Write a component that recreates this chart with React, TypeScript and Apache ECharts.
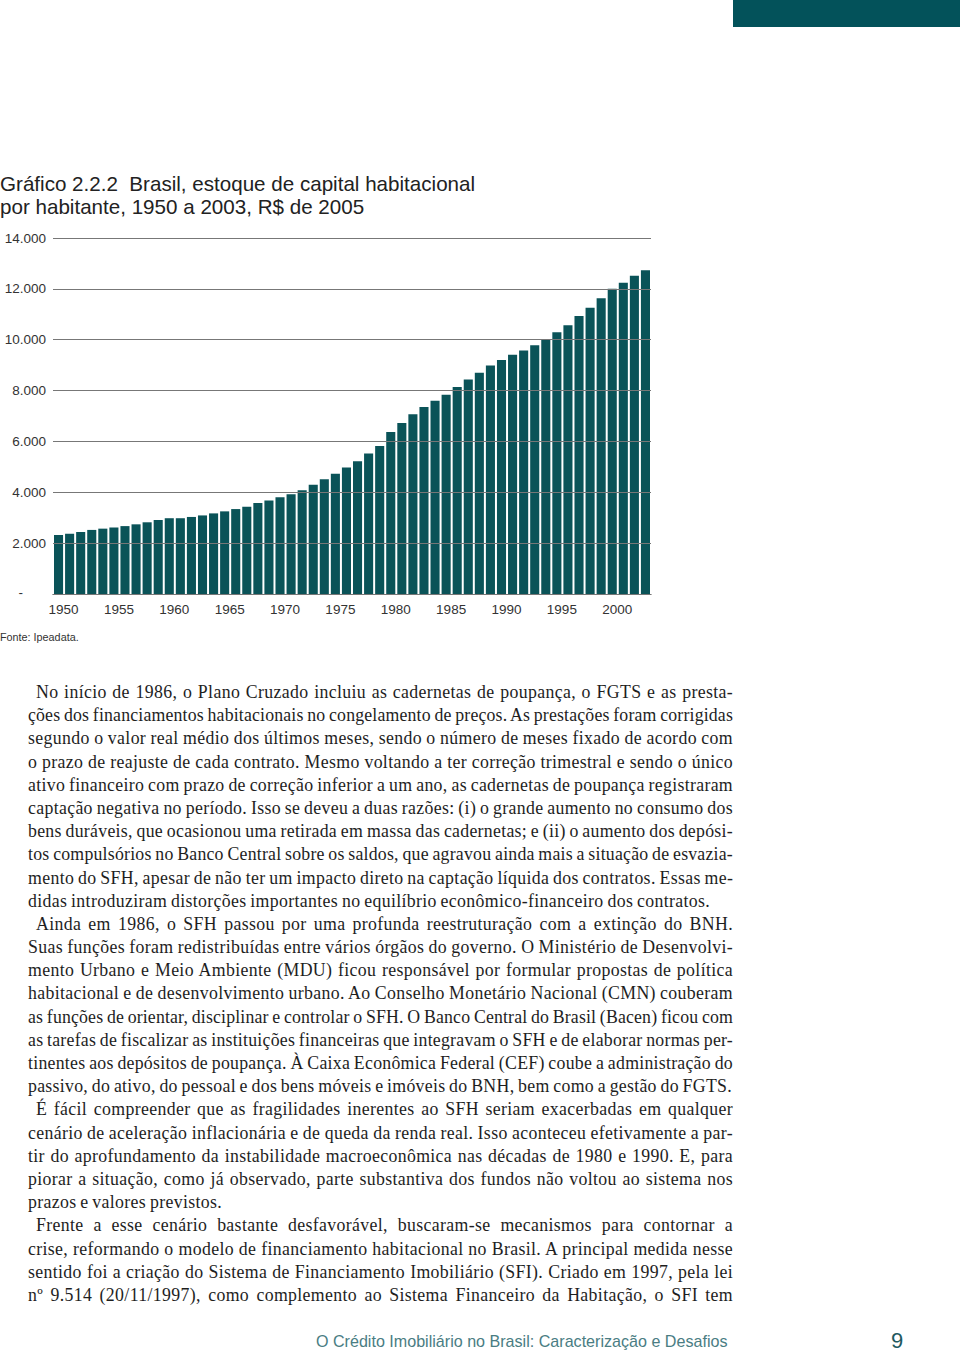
import React, { useEffect, useLayoutEffect, useRef } from "react";
import * as echarts from "echarts";

const years = [
  "1950","1951","1952","1953","1954","1955","1956","1957","1958","1959",
  "1960","1961","1962","1963","1964","1965","1966","1967","1968","1969",
  "1970","1971","1972","1973","1974","1975","1976","1977","1978","1979",
  "1980","1981","1982","1983","1984","1985","1986","1987","1988","1989",
  "1990","1991","1992","1993","1994","1995","1996","1997","1998","1999",
  "2000","2001","2002","2003",
];

const stockPerCapita = [
  2320, 2370, 2440, 2520, 2570, 2620, 2670, 2740, 2820, 2910,
  2980, 2980, 3030, 3090, 3170, 3250, 3340, 3430, 3580, 3680,
  3800, 3920, 4080, 4300, 4510, 4730, 4970, 5220, 5530, 5820,
  6370, 6720, 7070, 7350, 7600, 7840, 8140, 8440, 8700, 8990,
  9200, 9410, 9580, 9780, 10000, 10290, 10570, 10930, 11260, 11630,
  12000, 12240, 12520, 12730,
];

const yTicks = [0, 2000, 4000, 6000, 8000, 10000, 12000, 14000];
const yTickLabels = ["-", "2.000", "4.000", "6.000", "8.000", "10.000", "12.000", "14.000"];

const titleLines = [
  "Gráfico 2.2.2  Brasil, estoque de capital habitacional",
  "por habitante, 1950 a 2003, R$ de 2005",
];
const sourceText = "Fonte: Ipeadata.";
const footerText = "O Crédito Imobiliário no Brasil: Caracterização e Desafios";
const pageNumber = "9";

// [text, indent, lastLineOfParagraph]
const bodyLines: [string, boolean, boolean][] = [
  ["No início de 1986, o Plano Cruzado incluiu as cadernetas de poupança, o FGTS e as presta-", true, false],
  ["ções dos financiamentos habitacionais no congelamento de preços. As prestações foram corrigidas", false, false],
  ["segundo o valor real médio dos últimos meses, sendo o número de meses fixado de acordo com", false, false],
  ["o prazo de reajuste de cada contrato. Mesmo voltando a ter correção trimestral e sendo o único", false, false],
  ["ativo financeiro com prazo de correção inferior a um ano, as cadernetas de poupança registraram", false, false],
  ["captação negativa no período. Isso se deveu a duas razões: (i) o grande aumento no consumo dos", false, false],
  ["bens duráveis, que ocasionou uma retirada em massa das cadernetas; e (ii) o aumento dos depósi-", false, false],
  ["tos compulsórios no Banco Central sobre os saldos, que agravou ainda mais a situação de esvazia-", false, false],
  ["mento do SFH, apesar de não ter um impacto direto na captação líquida dos contratos. Essas me-", false, false],
  ["didas introduziram distorções importantes no equilíbrio econômico-financeiro dos contratos.", false, true],
  ["Ainda em 1986, o SFH passou por uma profunda reestruturação com a extinção do BNH.", true, false],
  ["Suas funções foram redistribuídas entre vários órgãos do governo. O Ministério de Desenvolvi-", false, false],
  ["mento Urbano e Meio Ambiente (MDU) ficou responsável por formular propostas de política", false, false],
  ["habitacional e de desenvolvimento urbano. Ao Conselho Monetário Nacional (CMN) couberam", false, false],
  ["as funções de orientar, disciplinar e controlar o SFH. O Banco Central do Brasil (Bacen) ficou com", false, false],
  ["as tarefas de fiscalizar as instituições financeiras que integravam o SFH e de elaborar normas per-", false, false],
  ["tinentes aos depósitos de poupança. À Caixa Econômica Federal (CEF) coube a administração do", false, false],
  ["passivo, do ativo, do pessoal e dos bens móveis e imóveis do BNH, bem como a gestão do FGTS.", false, true],
  ["É fácil compreender que as fragilidades inerentes ao SFH seriam exacerbadas em qualquer", true, false],
  ["cenário de aceleração inflacionária e de queda da renda real. Isso aconteceu efetivamente a par-", false, false],
  ["tir do aprofundamento da instabilidade macroeconômica nas décadas de 1980 e 1990. E, para", false, false],
  ["piorar a situação, como já observado, parte substantiva dos fundos não voltou ao sistema nos", false, false],
  ["prazos e valores previstos.", false, true],
  ["Frente a esse cenário bastante desfavorável, buscaram-se mecanismos para contornar a", true, false],
  ["crise, reformando o modelo de financiamento habitacional no Brasil. A principal medida nesse", false, false],
  ["sentido foi a criação do Sistema de Financiamento Imobiliário (SFI). Criado em 1997, pela lei", false, false],
  ["nº 9.514 (20/11/1997), como complemento ao Sistema Financeiro da Habitação, o SFI tem", false, false],
];

const TEAL = "#0a5358";
const SANS = "'Liberation Sans', Arial, sans-serif";
const BASE_LS = 0.35;
const TEXT_W = 705;
const INDENT = 8;

export default function App() {
  const ref = useRef<HTMLDivElement>(null);
  const textRef = useRef<HTMLDivElement>(null);

  useLayoutEffect(() => {
    const fit = () => {
      const host = textRef.current;
      if (!host) return;
      const spans = host.querySelectorAll("span[data-line]");
      spans.forEach((el) => {
        const span = el as HTMLSpanElement;
        const idx = Number(span.dataset.line);
        const avail = TEXT_W - (bodyLines[idx][1] ? INDENT : 0);
        span.style.letterSpacing = BASE_LS + "px";
        const w = span.getBoundingClientRect().width;
        if (w > avail + 0.5) {
          const n = bodyLines[idx][0].length;
          span.style.letterSpacing = (BASE_LS - (w - avail + 1) / n) + "px";
        }
      });
    };
    fit();
    const fonts: any = (document as any).fonts;
    if (fonts && fonts.ready) fonts.ready.then(fit);
  }, []);

  useEffect(() => {
    if (!ref.current) return;
    const chart = echarts.init(ref.current, undefined, { renderer: "svg" });
    const option: any = {
      animation: false,
      backgroundColor: "transparent",
      grid: { left: 53, right: 309, top: 238, bottom: 761, containLabel: false },
      xAxis: {
        type: "category",
        data: years,
        boundaryGap: true,
        axisLine: { show: true, lineStyle: { color: "#333", width: 1 } },
        axisTick: { show: false },
        axisLabel: {
          interval: 4,
          color: "#333",
          fontFamily: SANS,
          fontSize: 13.5,
          margin: 8,
          padding: [0, 0, 0, 10],
        },
        splitLine: { show: false },
      },
      yAxis: {
        type: "value",
        min: 0,
        max: 14000,
        interval: 2000,
        z: 3,
        axisLine: { show: false },
        axisTick: { show: false },
        axisLabel: {
          color: "#333",
          fontFamily: SANS,
          fontSize: 13.5,
          margin: 7,
          formatter: (v: number) => {
            const idx = yTicks.indexOf(v);
            const label = idx >= 0 ? yTickLabels[idx] : String(v);
            return v === 0 ? "{z|" + label + "}" : label;
          },
          rich: {
            z: { fontFamily: SANS, fontSize: 13.5, color: "#333", padding: [0, 23, 4, 0] },
          },
        },
        splitLine: { show: true, lineStyle: { color: "#777", width: 1 } },
      },
      series: [
        {
          type: "bar",
          data: stockPerCapita,
          barCategoryGap: "18%",
          itemStyle: { color: TEAL },
        },
      ],
      graphic: [
        { type: "rect", shape: { x: 733, y: 0, width: 227, height: 27 }, style: { fill: "#03525a" } },
        {
          type: "text", x: 0, y: 183,
          style: { text: titleLines[0], fontFamily: SANS, fontSize: 20.6, fill: "#222", verticalAlign: "middle" },
        },
        {
          type: "text", x: 0, y: 206,
          style: { text: titleLines[1], fontFamily: SANS, fontSize: 20.6, fill: "#222", verticalAlign: "middle" },
        },
        {
          type: "text", x: 0, y: 637,
          style: { text: sourceText, fontFamily: SANS, fontSize: 10.8, fill: "#333", verticalAlign: "middle" },
        },
        {
          type: "text", x: 316, y: 1341,
          style: { text: footerText, fontFamily: SANS, fontSize: 16.1, fill: "#4a7d83", verticalAlign: "middle" },
        },
        {
          type: "text", x: 891, y: 1340,
          style: { text: pageNumber, fontFamily: SANS, fontSize: 22, fill: "#1f5a60", verticalAlign: "middle" },
        },
      ],
    };
    chart.setOption(option);
    return () => chart.dispose();
  }, []);

  return (
    <div style={{ position: "absolute", left: 0, top: 0, width: 960, height: 1355, background: "#fff", overflow: "hidden" }}>
      <div ref={ref} style={{ position: "absolute", left: 0, top: 0, width: 960, height: 1355 }} />
      <div
        ref={textRef}
        style={{
          position: "absolute",
          left: 28,
          top: 681,
          width: TEXT_W,
          fontFamily: "'Liberation Serif', 'Times New Roman', serif",
          fontSize: 17.8,
          wordSpacing: "-1px",
          lineHeight: "23.19px",
          color: "#1e1e1e",
        }}
      >
        {bodyLines.map(([t, indent, last], i) => (
          <div
            key={i}
            style={{
              textAlign: "justify",
              textAlignLast: last ? "left" : "justify",
              paddingLeft: indent ? INDENT : 0,
              whiteSpace: "nowrap",
              height: "23.19px",
            } as React.CSSProperties}
          >
            <span data-line={i} style={{ letterSpacing: BASE_LS + "px" }}>{t}</span>
          </div>
        ))}
      </div>
    </div>
  );
}
